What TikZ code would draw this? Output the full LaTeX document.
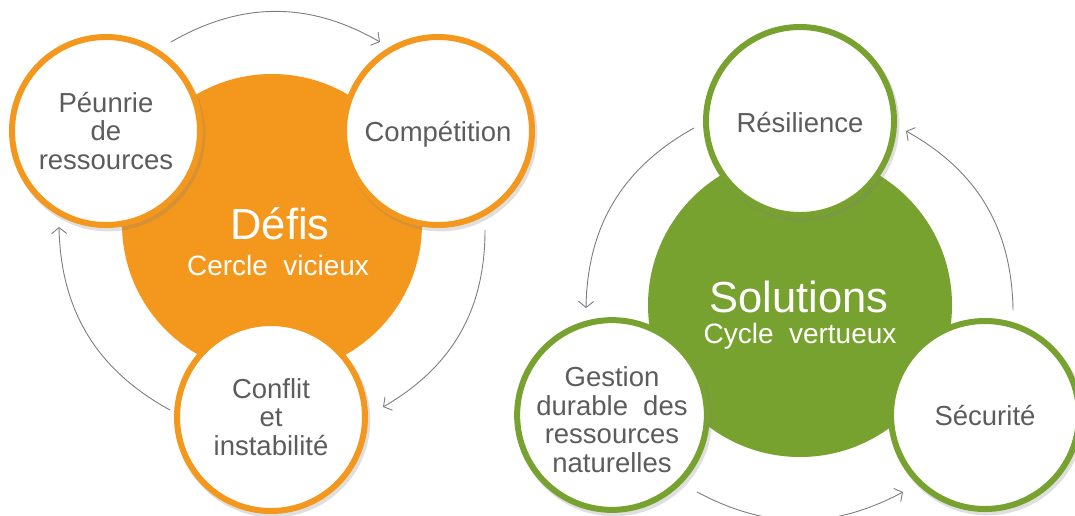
\documentclass[tikz,border=0pt]{standalone}
\usepackage{fontspec}
\setmainfont{Liberation Sans}
\usetikzlibrary{arrows.meta,shadows}
\definecolor{defiorange}{RGB}{243,152,29}
\definecolor{solgreen}{RGB}{120,162,47}
\definecolor{labelgray}{RGB}{92,92,92}
\definecolor{arcgray}{RGB}{125,125,125}
\begin{document}
\begin{tikzpicture}[x=1pt,y=-1pt,
  hub/.style={circle, fill=#1, minimum size=300pt, inner sep=0pt},
  spoke/.style={circle, draw=#1, line width=6pt, fill=white, minimum size=188pt,
    inner sep=0pt, align=center, text=labelgray, font=\fontsize{27.5}{28.5}\selectfont,
    drop shadow={shadow xshift=2pt, shadow yshift=-3pt, shadow scale=1.035, opacity=0.25}},
  hubtitle/.style={text=white, anchor=base, inner sep=0pt, font=\fontsize{43.5}{46}\selectfont},
  hubsub/.style={text=white, anchor=base, inner sep=0pt, font=\fontsize{28}{32}\selectfont},
  cycarrow/.style={draw=arcgray, line width=0.9pt, -{Straight Barb[length=6pt,width=15pt]}}
]
\useasboundingbox (0,0) rectangle (1075,515);
\clip (0,0) rectangle (1075,515);

% ---------- left: Défis ----------
\node[hub=defiorange] (defis) at (272,224) {};
\node[hubtitle] (defisT) at (280,239) {Défis};
\node[hubsub] (defisS) at (278,275) {Cercle\hspace{0.55em}vicieux};

\node[spoke=defiorange] (penurie) at (106,131) {Péunrie\\de\\ressources};
\node[spoke=defiorange] (compet) at (438,131) {\rule{0pt}{26pt}Compétition};
\node[spoke=defiorange] (conflit) at (271,417) {Conflit\\et\\instabilité};

\coordinate (a1s) at (171,42);  \coordinate (a1e) at (380,42);
\coordinate (a2s) at (485,230); \coordinate (a2e) at (383,407);
\coordinate (a3s) at (170,410); \coordinate (a3e) at (59,227);
\draw[cycarrow] (a1s) to[bend left=30] (a1e);
\draw[cycarrow] (a2s) to[bend left=30] (a2e);
\draw[cycarrow] (a3s) to[bend left=30] (a3e);

% ---------- right: Solutions ----------
\node[hub=solgreen, minimum size=304pt] (solutions) at (800,305) {};
\node[hubtitle] (solT) at (799,312) {Solutions};
\node[hubsub] (solS) at (800,343) {Cycle\hspace{0.55em}vertueux};

\node[spoke=solgreen] (resil) at (800,121) {\rule{0pt}{24pt}Résilience};
\node[spoke=solgreen] (gestion) at (612,415) {\rule{0pt}{29pt}Gestion\\durable\hspace{0.55em}des\\ressources\\naturelles};
\node[spoke=solgreen] (secur) at (985,415) {Sécurité};

\coordinate (b1s) at (694,128);  \coordinate (b1e) at (586,308);
\coordinate (b2s) at (697,492);  \coordinate (b2e) at (903,492);
\coordinate (b3s) at (1013,310); \coordinate (b3e) at (906,131);
\draw[cycarrow] (b1s) to[bend right=30] (b1e);
\draw[cycarrow] (b2s) to[bend right=28] (b2e);
\draw[cycarrow] (b3s) to[bend right=30] (b3e);
\end{tikzpicture}
\end{document}
